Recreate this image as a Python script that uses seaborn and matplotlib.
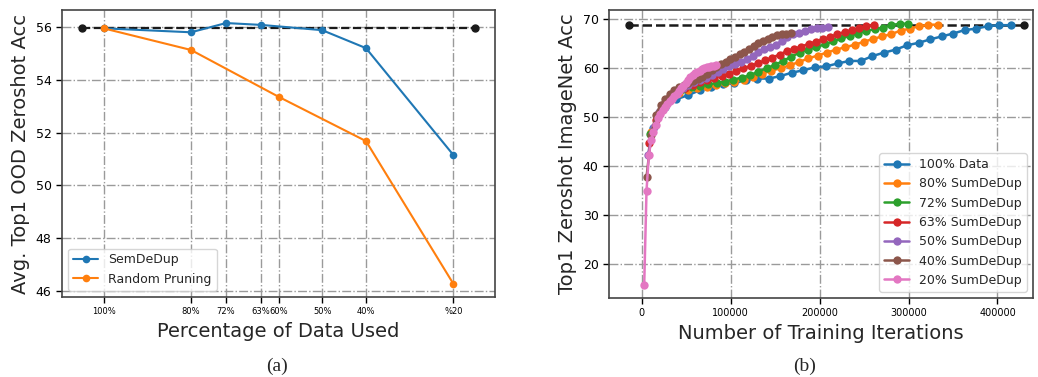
import numpy as np
import pandas as pd
import matplotlib
matplotlib.use("Agg")
import matplotlib.pyplot as plt
import seaborn as sns

# ---------------- Panel (a) data ----------------
pct_ticks = [100, 80, 72, 64, 60, 50, 40, 20]
pct_tick_labels = ["100%", "80%", "72%", "63%", "60%", "50%", "40%", "%20"]

semdedup_pct = [100, 80, 72, 64, 50, 40, 20]
semdedup_acc = [55.95, 55.80, 56.15, 56.08, 55.88, 55.20, 51.15]

random_pct = [100, 80, 60, 40, 20]
random_acc = [55.95, 55.13, 53.36, 51.68, 46.27]

baseline_a_x = [105, 15]
baseline_a_acc = 55.95

# ---------------- Panel (b) data ----------------
epochs = [1, 2, 3, 4, 5, 6, 7, 8, 9, 10, 11, 12, 13, 14, 15, 16,
          17, 18, 19, 20, 21, 22, 23, 24, 25, 26, 27, 28, 29, 30, 31, 32]

series_names = ["100% Data", "80% SumDeDup", "72% SumDeDup", "63% SumDeDup",
                "50% SumDeDup", "40% SumDeDup", "20% SumDeDup"]
steps_per_epoch = [12970, 10400, 9350, 8150, 6550, 5240, 2600]

acc_100 = [47.8, 52.0, 53.7, 54.5, 55.5, 56.2, 56.8, 56.9, 57.6, 57.9, 57.9,
           58.4, 59.1, 59.6, 60.2, 60.4, 61.0, 61.5, 61.5, 62.5, 63.2, 63.8,
           64.7, 65.2, 65.9, 66.5, 67.1, 67.8, 68.1, 68.6, 68.8, 68.8]
acc_80 = [47.0, 51.0, 53.8, 55.0, 55.6, 55.9, 56.2, 56.5, 56.9, 57.3, 57.7,
          58.2, 58.9, 59.5, 60.0, 60.6, 61.3, 62.0, 62.6, 63.2, 63.8, 64.3,
          64.8, 65.4, 66.0, 66.5, 67.0, 67.7, 68.1, 68.6, 68.9, 68.9]
acc_72 = [46.6, 50.7, 53.4, 54.9, 55.7, 56.1, 56.4, 56.7, 57.0, 57.3, 57.7,
          58.1, 58.6, 59.3, 60.0, 60.7, 61.5, 62.4, 63.2, 63.8, 64.3, 64.9,
          65.5, 66.1, 66.6, 67.1, 67.6, 68.0, 68.3, 68.8, 69.1, 69.1]
acc_63 = [44.7, 49.5, 52.3, 54.0, 55.2, 56.0, 56.6, 57.2, 57.7, 58.1, 58.5,
          58.8, 59.4, 60.0, 60.5, 61.0, 61.6, 62.2, 62.8, 63.5, 64.0, 64.4,
          65.0, 65.4, 65.9, 66.4, 67.0, 67.4, 67.8, 68.2, 68.7, 68.8]
acc_50 = [42.2, 48.0, 51.0, 53.0, 54.4, 55.3, 56.0, 56.6, 57.1, 57.6, 58.1,
          58.6, 59.2, 59.8, 60.4, 60.8, 61.3, 61.8, 62.6, 63.3, 64.0, 64.4,
          64.8, 65.6, 66.3, 66.9, 67.3, 67.7, 68.0, 68.2, 68.3, 68.4]
acc_40 = [37.8, 46.3, 50.5, 52.5, 53.8, 54.8, 55.6, 56.1, 56.6, 57.0, 57.4,
          57.8, 58.2, 58.9, 59.6, 60.2, 60.8, 61.3, 61.8, 62.4, 62.9, 63.4,
          63.9, 64.5, 65.1, 65.6, 66.0, 66.4, 66.7, 66.9, 67.1, 67.2]
acc_20 = [15.8, 35.0, 42.2, 45.3, 47.0, 48.5, 49.8, 50.7, 51.5, 52.1, 52.7,
          53.3, 53.8, 54.3, 54.8, 55.3, 55.9, 56.4, 56.9, 57.6, 58.2, 58.6,
          59.0, 59.3, 59.5, 59.8, 60.0, 60.2, 60.3, 60.4, 60.5, 60.6]

baseline_b_x = [-15000, 430000]
baseline_b_acc = 68.8

# ---------------- Style ----------------
sns.set_theme(style="ticks", rc={
    "axes.grid": True,
    "grid.linestyle": "-.",
    "grid.color": "#9a9a9a",
    "grid.linewidth": 1.0,
    "axes.edgecolor": "#444444",
    "axes.linewidth": 1.2,
    "xtick.color": "black",
    "ytick.color": "black",
})
plt.rcParams["font.family"] = ["DejaVu Sans"]

palette = sns.color_palette("tab10", 7)

fig = plt.figure(figsize=(10.38, 3.77), dpi=100)
ax1 = fig.add_axes([62 / 1038, 1 - 297 / 377, 433 / 1038, 287 / 377])
ax2 = fig.add_axes([609 / 1038, 1 - 298 / 377, 424 / 1038, 288 / 377])

# ---------------- Panel (a) ----------------
df_a = pd.concat([
    pd.DataFrame({"pct": semdedup_pct, "acc": semdedup_acc, "method": "SemDeDup"}),
    pd.DataFrame({"pct": random_pct, "acc": random_acc, "method": "Random Pruning"}),
])
ax1.plot(baseline_a_x, [baseline_a_acc] * len(baseline_a_x), "k--", marker="o",
         markersize=5, linewidth=1.6, zorder=2)
sns.lineplot(data=df_a, x="pct", y="acc", hue="method", marker="o",
             palette=palette[:2], linewidth=1.5, markersize=5.5,
             markeredgewidth=0, ax=ax1, zorder=3)
ax1.invert_xaxis()
ax1.set_xticks(pct_ticks)
ax1.set_xticklabels(pct_tick_labels, fontsize=6)
ax1.set_yticks([46, 48, 50, 52, 54, 56])
ax1.tick_params(axis="y", labelsize=9)
ax1.tick_params(axis="both", length=4, width=1)
ax1.set_xlabel("Percentage of Data Used", fontsize=14)
ax1.set_ylabel("Avg. Top1 OOD Zeroshot Acc", fontsize=14)
ax1.legend(loc="lower left", fontsize=9, title=None)

# ---------------- Panel (b) ----------------
frames = []
for name, spe, vals in zip(series_names, steps_per_epoch,
                           [acc_100, acc_80, acc_72, acc_63, acc_50, acc_40, acc_20]):
    frames.append(pd.DataFrame({
        "iters": [e * spe for e in epochs],
        "acc": vals,
        "series": name,
    }))
df_b = pd.concat(frames)
ax2.plot(baseline_b_x, [baseline_b_acc] * len(baseline_b_x), "k--", marker="o",
         markersize=5, linewidth=1.8, zorder=2)
sns.lineplot(data=df_b, x="iters", y="acc", hue="series", hue_order=series_names,
             marker="o", palette=palette, linewidth=1.8, markersize=6,
             markeredgewidth=0, ax=ax2, zorder=3)
ax2.set_xlim(-37000, 440000)
ax2.set_ylim(13.1, 71.9)
ax2.set_xticks([0, 100000, 200000, 300000, 400000])
ax2.set_xticklabels(["0", "100000", "200000", "300000", "400000"], fontsize=7)
ax2.set_yticks([20, 30, 40, 50, 60, 70])
ax2.tick_params(axis="y", labelsize=9)
ax2.tick_params(axis="both", length=4, width=1)
ax2.set_xlabel("Number of Training Iterations", fontsize=14)
ax2.set_ylabel("Top1 Zeroshot ImageNet Acc", fontsize=14)
ax2.legend(loc="lower right", fontsize=9, title=None)

fig.text(277 / 1038, 1 - 366 / 377, "(a)", fontsize=14, family="Liberation Serif",
         ha="center", va="center")
fig.text(805 / 1038, 1 - 366 / 377, "(b)", fontsize=14, family="Liberation Serif",
         ha="center", va="center")

fig.savefig("out.png", dpi=100)
